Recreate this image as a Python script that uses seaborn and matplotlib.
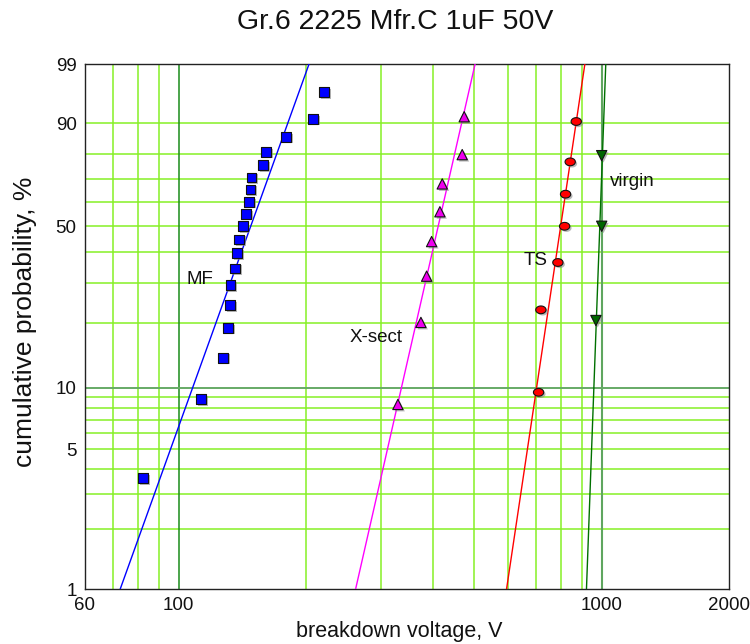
import numpy as np
import pandas as pd
import matplotlib
matplotlib.use("Agg")
import matplotlib.pyplot as plt
import seaborn as sns
from matplotlib import font_manager
from matplotlib.path import Path
import matplotlib.patheffects as pe
from matplotlib.ticker import NullLocator

# ---------------- data ----------------
title = "Gr.6 2225 Mfr.C 1uF 50V"
x_label = "breakdown voltage, V"
y_label = "cumulative probability, %"

mf_v = [82.4, 112.8, 127.4, 130.7, 132.4, 132.5, 135.8, 137.5, 139.1, 141.6,
        144.2, 146.5, 147.7, 148.5, 158.3, 160.7, 179.5, 207.6, 220.4]
mf_p = [3.6, 8.8, 13.9, 19.1, 24.2, 29.4, 34.5, 39.7, 44.8, 50.0,
        55.2, 60.3, 65.5, 70.6, 75.8, 80.9, 86.1, 91.2, 96.4]
xs_v = [329.7, 373.7, 385.5, 396.1, 414.4, 419.7, 467.9, 473.0]
xs_p = [8.3, 20.2, 32.1, 44.0, 56.0, 67.9, 79.8, 91.7]
ts_v = [709.2, 718.2, 787.8, 817.2, 821.4, 842.4, 870.6]
ts_p = [9.5, 23.0, 36.5, 50.0, 63.5, 77.0, 90.5]
vg_v = [969.0, 1000.0, 1000.0]
vg_p = [20.6, 50.0, 79.4]

series_names = ["MF", "X-sect", "TS", "virgin"]
fit_shape = [5.96, 9.42, 14.37, 58.3]     # Weibull slope of fitted lines
fit_scale = [157.3, 426.8, 820.5, 996.0]  # Weibull scale (63.2 %) of fitted lines

x_ticks = [60, 100, 1000, 2000]
y_ticks = [1, 5, 10, 50, 90, 99]
x_grid_light = [70, 80, 90, 200, 300, 400, 500, 600, 700, 800, 900]
y_grid_light = [2, 3, 4, 5, 6, 7, 8, 9, 20, 30, 40, 50, 60, 70, 80, 90]

label_pos_v = [112.3, 292.6, 699.5, 1179.0]
label_pos_p = [31.2, 17.3, 37.3, 69.1]

# ---------------- style ----------------
sns.set_style("white")
names = {f.name for f in font_manager.fontManager.ttflist}
fam = "Liberation Sans Narrow" if "Liberation Sans Narrow" in names else "Liberation Sans"
plt.rcParams["font.family"] = [fam, "DejaVu Sans"]

fig = plt.figure(figsize=(7.5, 6.44), dpi=100)
ax = fig.add_axes([0.1133, 0.0854, 0.8587, 0.8152])


def fwd(p):
    p = np.clip(np.asarray(p, dtype=float), 1e-6, 100 - 1e-9)
    return np.log(-np.log(1 - p / 100.0))


def inv(u):
    return 100.0 * (1 - np.exp(-np.exp(np.asarray(u, dtype=float))))


ax.set_xscale("log")
ax.set_yscale("function", functions=(fwd, inv))
ax.set_xlim(60, 2000)
ax.set_ylim(1, 99)

# grid
light = "#86f026"
for v in x_grid_light:
    ax.axvline(v, color=light, lw=1.1, zorder=1)
for p in y_grid_light:
    ax.axhline(p, color=light, lw=1.1, zorder=1)
ax.axvline(100, color="#1a8c1a", lw=1.1, zorder=1.5)
ax.axvline(1000, color="#5fa65f", lw=1.5, zorder=1.5)
ax.axhline(10, color="#66aa66", lw=1.4, zorder=1.5)

# fitted lines (drawn between 1 % and 99 %)
line_colors = ["#0000ff", "#ff00ff", "#ff0000", "#007000"]
p_ends = np.array([1.0, 99.0])
for sh, sc, col in zip(fit_shape, fit_scale, line_colors):
    v_ends = sc * (-np.log(1 - p_ends / 100.0)) ** (1.0 / sh)
    sns.lineplot(x=v_ends, y=p_ends, color=col, lw=1.0, sort=False,
                 estimator=None, ax=ax, zorder=3)

# markers
shadow = [pe.SimplePatchShadow(offset=(1.3, -1.3), shadow_rgbFace="#888888", alpha=0.6), pe.Normal()]
t = np.linspace(0, 2 * np.pi, 40)
ellipse = Path(np.column_stack([np.cos(t), 0.75 * np.sin(t)]))

sets = [
    (mf_v, mf_p, "s", "#0000ff", 50),
    (xs_v, xs_p, "^", "#ee00ee", 55),
    (ts_v, ts_p, ellipse, "#ff0000", 55),
    (vg_v, vg_p, "v", "#006600", 55),
]
for v, p, mk, col, s in sets:
    sns.scatterplot(x=v, y=p, marker=mk, color=col, edgecolor="#111111",
                    linewidth=0.8, s=s, ax=ax, zorder=4)
    ax.collections[-1].set_path_effects(shadow)

for name, v, p in zip(series_names, label_pos_v, label_pos_p):
    ax.text(v, p, name, fontsize=13.5, ha="center", va="center", color="#111111", zorder=5)

# ticks
ax.xaxis.set_minor_locator(NullLocator())
ax.yaxis.set_minor_locator(NullLocator())
ax.set_xticks(x_ticks)
ax.set_xticklabels([str(x) for x in x_ticks])
ax.set_yticks(y_ticks)
ax.set_yticklabels([str(y) for y in y_ticks])
ax.tick_params(axis="both", which="major", direction="out", length=5, width=1,
               color="#222222", labelsize=13.5, labelcolor="#111111", pad=1)
for sp in ax.spines.values():
    sp.set_visible(True)
    sp.set_color("#222222")
    sp.set_linewidth(1.0)
ax.grid(False)

fig.text(0.527, 0.966, title, ha="center", va="center", fontsize=20.5, color="#111111")
fig.text(0.532, 0.019, x_label, ha="center", va="center", fontsize=15.5, color="#111111")
fig.text(0.034, 0.50, y_label, ha="center", va="center", rotation=90, fontsize=19, color="#111111")

fig.savefig("out.png", dpi=100)
